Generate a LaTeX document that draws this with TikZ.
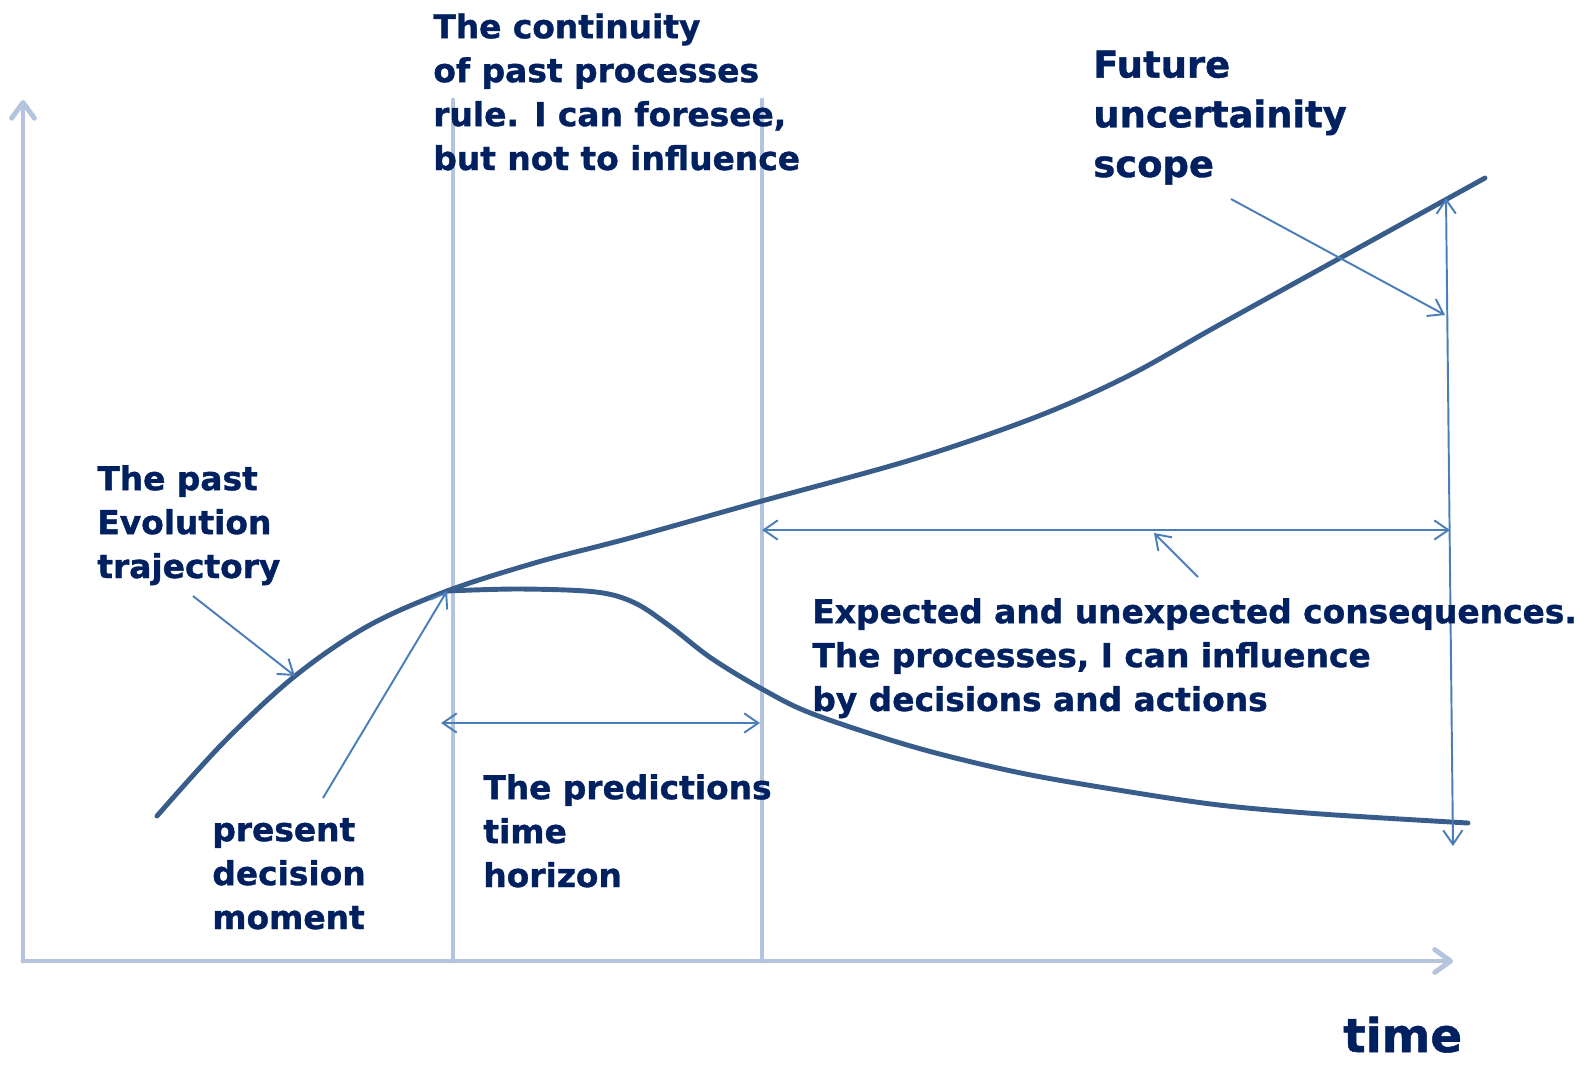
\documentclass[tikz,border=0pt]{standalone}
\usepackage{fontspec}
\setmainfont{DejaVu Sans}[BoldFeatures={FakeBold=1.1}]
\usetikzlibrary{arrows.meta}

\definecolor{navy}{HTML}{002060}
\definecolor{trendblue}{HTML}{385D8A}
\definecolor{thinblue}{HTML}{4A7EBB}
\definecolor{axisblue}{HTML}{B4C3DE}

\begin{document}
\begin{tikzpicture}[x=0.02cm, y=-0.02cm,
    >={Straight Barb[length=8pt,width=11pt]},
    axis/.style={draw=axisblue, line width=2.8pt, line cap=round},
    trend/.style={draw=trendblue, line width=2.8pt, line cap=round},
    pointer/.style={draw=thinblue, line width=1.1pt},
    note/.style={text=navy, font=\fontsize{18.7}{25}\selectfont\bfseries,
      align=left, anchor=base west, inner sep=0pt}]

        \useasboundingbox (0,0) rectangle (1593,1065);

        % axes and the two time marks
        \coordinate (o)    at (23,961);
        \coordinate (ytop) at (23,100);
        \coordinate (xend) at (1453,961);
        \coordinate (m1a)  at (453,100);
        \coordinate (m1b)  at (453,961);
        \coordinate (m2a)  at (762,100);
        \coordinate (m2b)  at (762,961);

        \begin{scope}[axis]
          \draw[-{Straight Barb[length=9pt,width=13pt,line cap=round,line join=round]}] (o) -- (ytop);
          \draw[-{Straight Barb[length=9pt,width=13pt,line cap=round,line join=round]}] (o) -- (xend);
          \draw (m1a) -- (m1b);
          \draw (m2a) -- (m2b);
        \end{scope}

        % trajectories
        \coordinate (now) at (447,591);
        \coordinate (c1)  at (295,676);
        \draw[trend] plot[smooth, tension=0.55] coordinates
          {(157,816) (224,742) (c1) (368,626) (now) (538,562) (630,538) (762,501)
           (914,459) (1036,417) (1128,376) (1219,325) (1351,252) (1485,178)};
        \draw[trend] plot[smooth, tension=0.55] coordinates
          {(now) (520,589) (596,592) (635,603) (671,627) (711,658) (762,689) (813,714) (914,747)
           (1016,772) (1118,790) (1219,805) (1321,814) (1468,823)};

        % pointers
        \coordinate (p1) at (193,596);
        \coordinate (p2) at (323,798);
        \coordinate (p3) at (1231,199);
        \coordinate (p4) at (1445,315);
        \coordinate (u1) at (1446,198);
        \coordinate (u2) at (1453,846);
        \coordinate (h1) at (762,530);
        \coordinate (h2) at (1450,530);
        \coordinate (p5) at (1198,577);
        \coordinate (p6) at (1154,533);
        \coordinate (h3) at (441,723);
        \coordinate (h4) at (760,723);

        \begin{scope}[pointer]
          \draw[->] (p1) -- (c1);
          \draw[->] (p2) -- (now);
          \draw[->] (p3) -- (p4);
          \draw[<->] (u1) -- (u2);
          \draw[<->] (h1) -- (h2);
          \draw[->] (p5) -- (p6);
          \draw[<->] (h3) -- (h4);
        \end{scope}

        % texts (anchored on the last line)
        \node[note] (cont) at (433,170) {The continuity\\of past processes\\rule. I can foresee,\\but not to influence};
        \node[note, font=\fontsize{21}{28.3}\selectfont\bfseries] (fut) at (1093,177) {Future\\uncertainity\\scope};
        \node[note] (past) at (97,578) {The past\\Evolution\\trajectory};
        \node[note] (pres) at (212,929) {present\\decision\\moment};
        \node[note] (pred) at (483,887) {The predictions\\time\\horizon};
        \node[note] (cons) at (812,711) {Expected and unexpected consequences.\\The processes, I can influence\\by decisions and actions};
        \node[note, font=\fontsize{26.6}{30}\selectfont\bfseries] (time) at (1343,1052) {time};

      \end{tikzpicture}
\end{document}
